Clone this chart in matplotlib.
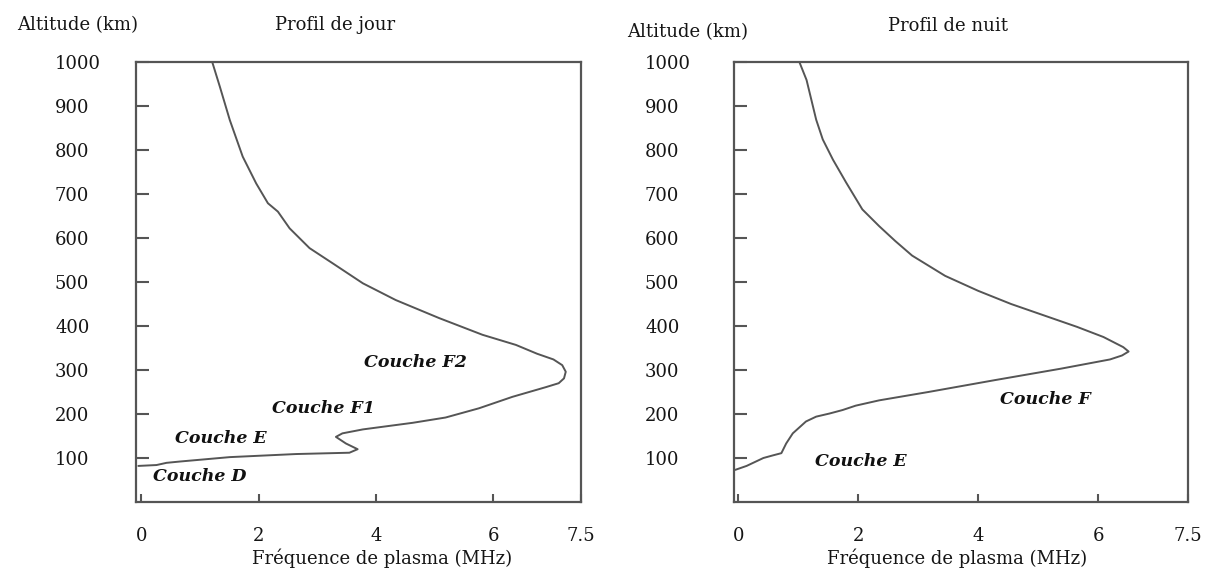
import matplotlib
matplotlib.use("Agg")
import matplotlib.pyplot as plt

plt.rcParams['font.family'] = ['DejaVu Serif']

# ---- data ----
day_freq = [1.21, 1.34, 1.51, 1.73, 1.96, 2.16, 2.33, 2.53, 2.87, 3.27, 3.78, 4.34,
            5.08, 5.82, 6.39, 6.75, 7.03, 7.18, 7.24, 7.21, 7.12, 6.90,
            6.33, 5.76, 5.19, 4.63, 3.78, 3.43, 3.32, 3.49, 3.69, 3.55, 2.64, 1.51,
            0.66, 0.43, 0.26, -0.05]
day_alt = [1000, 944, 868, 785, 724, 679, 660, 622, 577, 542, 497, 459,
           418, 380, 357, 337, 324, 311, 296, 281, 270, 261,
           239, 213, 192, 180, 165, 156, 148, 133, 120, 112, 109, 102,
           92, 89, 84, 82]

night_freq = [1.02, 1.14, 1.22, 1.30, 1.41, 1.58, 1.80, 2.07, 2.35, 2.62, 2.90, 3.45,
              4.00, 4.55, 5.10, 5.65, 6.09, 6.42, 6.51, 6.40, 6.20, 5.38, 4.28, 3.17,
              2.35, 1.96, 1.74, 1.52, 1.30, 1.13, 0.91, 0.80, 0.72, 0.58, 0.42, 0.14,
              -0.05]
night_alt = [1000, 959, 914, 869, 824, 778, 726, 665, 627, 593, 560, 514,
             480, 450, 424, 398, 375, 352, 342, 333, 324, 303, 277, 250,
             231, 219, 209, 201, 194, 183, 156, 133, 111, 106, 100, 82,
             73]

x_ticks = [0, 2, 4, 6, 7.5]
x_tick_labels = ["0", "2", "4", "6", "7.5"]
y_ticks = [100, 200, 300, 400, 500, 600, 700, 800, 900, 1000]
y_tick_labels = [str(v) for v in y_ticks]

day_labels = ["Couche F2", "Couche F1", "Couche E", "Couche D"]
day_label_x = [4.68, 3.11, 1.36, 1.00]
day_label_y = [318, 213, 145, 59]
night_labels = ["Couche F", "Couche E"]
night_label_x = [5.13, 2.05]
night_label_y = [234, 92]

titles = ["Profil de jour", "Profil de nuit"]
ylabel = "Altitude (km)"
xlabel = "Fréquence de plasma (MHz)"

# ---- figure ----
W, H = 1219, 572
fig = plt.figure(figsize=(W / 100, H / 100), dpi=100)
fig.patch.set_facecolor('white')

line_c = '#555555'
text_c = '#151515'

def px_axes(x0, x1, ytop, ybot):
    return [x0 / W, 1 - ybot / H, (x1 - x0) / W, (ybot - ytop) / H]

ax1 = fig.add_axes(px_axes(136, 581, 62, 502))
ax2 = fig.add_axes(px_axes(734, 1188, 62, 502))

configs = [
    (ax1, day_freq, day_alt, (-0.09, 7.48), titles[0], 0.447, 1.084, -0.267, 1.084, 0.553, 81,
     day_labels, day_label_x, day_label_y),
    (ax2, night_freq, night_alt, (-0.07, 7.44), titles[1], 0.471, 1.082, -0.236, 1.068, 0.491, 89,
     night_labels, night_label_x, night_label_y),
]

for (ax, fx, alt, xl, title, tx, ty, ylx, yly, xlx, ypad, labs, lx, ly) in configs:
    ax.plot(fx, alt, color=line_c, lw=1.4, solid_joinstyle='round', solid_capstyle='round')
    ax.set_xlim(*xl)
    ax.set_ylim(0, 1000)
    for s in ax.spines.values():
        s.set_color(line_c)
        s.set_linewidth(1.6)
    ax.set_xticks(x_ticks)
    ax.set_xticklabels(x_tick_labels)
    ax.set_yticks(y_ticks)
    ax.set_yticklabels(y_tick_labels)
    ax.tick_params(axis='x', direction='in', length=6, width=1.5, color=line_c,
                   labelsize=13, labelcolor=text_c, pad=18)
    ax.tick_params(axis='y', direction='in', length=9, width=1.5, color=line_c,
                   labelsize=13, labelcolor=text_c, pad=ypad * 0.72)
    for lab in ax.get_yticklabels():
        lab.set_horizontalalignment('left')
    ax.set_title(title, fontsize=13, color=text_c, x=tx, y=ty, va='center', pad=0)
    ax.set_ylabel(ylabel, fontsize=13, color=text_c, rotation=0, ha='left', va='center')
    ax.yaxis.set_label_coords(ylx, yly)
    ax.set_xlabel(xlabel, fontsize=13, color=text_c, ha='center', va='center')
    ax.xaxis.set_label_coords(xlx, -0.127)
    for t, x, y in zip(labs, lx, ly):
        ax.text(x, y, t, fontsize=12.5, fontweight='bold', fontstyle='italic',
                color='#111111', ha='center', va='center')

fig.savefig('out.png', dpi=100, facecolor='white')
